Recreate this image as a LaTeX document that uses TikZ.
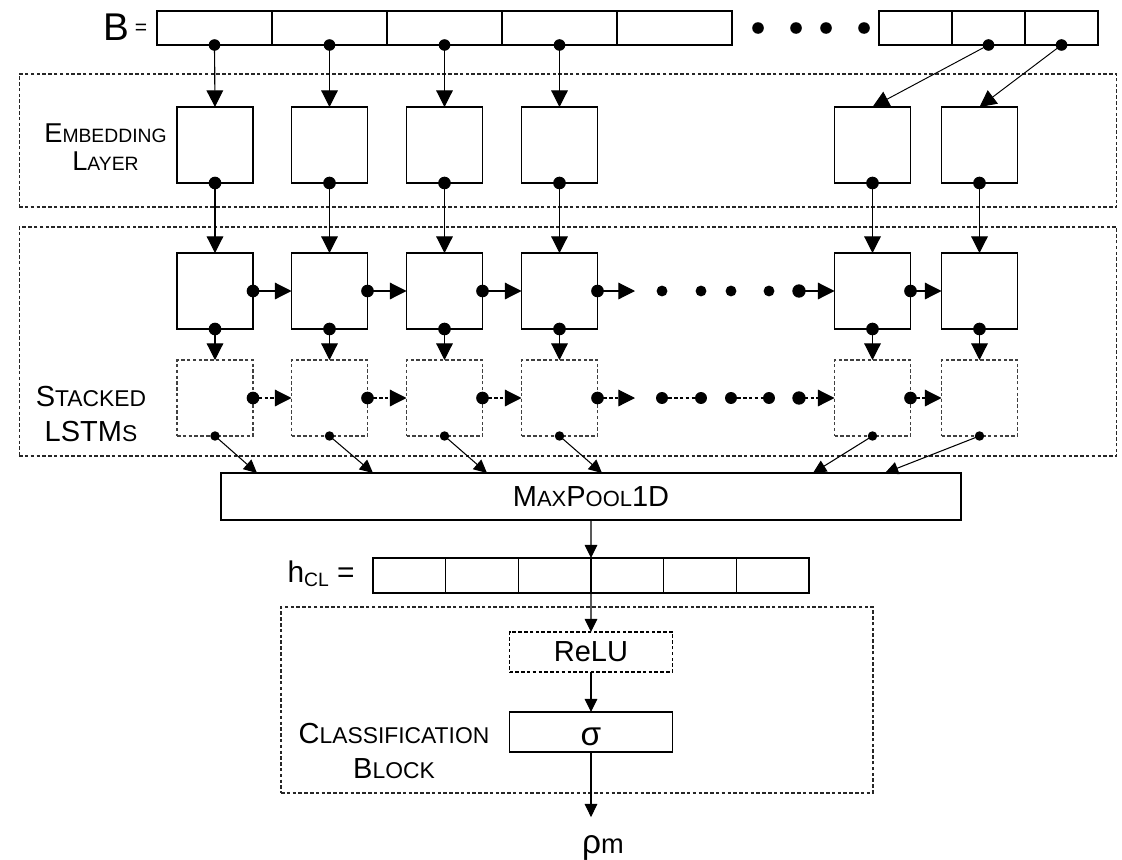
\documentclass[tikz,border=0pt]{standalone}
\usepackage{fontspec}
\setmainfont{Liberation Sans}
\usetikzlibrary{arrows.meta, positioning}

% small capitals made by hand
\newcommand{\low}[2][12]{{\fontsize{#1}{#1}\selectfont #2}}

\begin{document}
\begin{tikzpicture}[x=0.02cm, y=-0.02cm,
        bcell/.style={draw, line width=0.75pt, minimum width=2.3cm, minimum height=0.68cm, inner sep=0, outer sep=0},
        rcell/.style={bcell, minimum width=1.46cm},
        hcell/.style={bcell, minimum width=1.4533cm, minimum height=0.7cm},
        unit/.style={draw, line width=0.75pt, minimum size=1.52cm, inner sep=0, outer sep=0},
        dunit/.style={unit, draw=black!75, line width=0.65pt, dash pattern=on 2pt off 1.3pt},
        frame/.style={draw=black!85, line width=0.65pt, dash pattern=on 2pt off 1.3pt, inner sep=0, outer sep=0},
        opbox/.style={draw, line width=0.75pt, minimum width=3.26cm, minimum height=0.8cm, inner sep=0, outer sep=0},
        dot/.style={circle, fill=black, inner sep=0, minimum size=7.2pt},
        sdot/.style={dot, minimum size=5.4pt},
        arrow/.style={-{Triangle[length=9.5pt, width=9.5pt]}, line width=0.65pt},
        sarrow/.style={-{Triangle[length=7.5pt, width=7.2pt]}, line width=0.6pt},
        darrow/.style={arrow, dash pattern=on 2pt off 1.3pt},
        lbl/.style={align=center, inner sep=0}
    ]
        \useasboundingbox (0,0) rectangle (1122,859);

        % Frames
        \node[frame, minimum width=21.96cm, minimum height=2.66cm] (embbox) at (568,140.5) {};
        \node[frame, minimum width=21.96cm, minimum height=4.58cm] (lstmbox) at (568,341.5) {};
        \node[frame, minimum width=11.84cm, minimum height=3.72cm] (clsbox) at (577,700) {};

        % Input vector
        \node[anchor=base, inner sep=0, font=\fontsize{22}{22}\selectfont] (bname) at (116.5,40) {B};
        \node[inner sep=0, font=\fontsize{12}{12}\selectfont] (beq) at (141,29) {=};
        \foreach \i in {1,...,5}
            \node[bcell] (b\i) at ({157+115*\i-57.5},28) {};
        \foreach \i in {1,2,3}
            \node[rcell] (r\i) at ({879+73*\i-36.5},28) {};
        \foreach \i/\x in {1/758,2/796,3/826,4/864}
            \node[dot, minimum size=6.6pt] (u\i) at (\x,28) {};

        % Blocks
        \foreach \i/\x in {1/215,2/329.5,3/444.5,4/559.5,5/872.5,6/979.5} {
            \node[unit] (e\i) at (\x,145) {};
            \node[unit] (s\i) at (\x,291) {};
            \node[dunit] (t\i) at (\x,398) {};
        }

        % Labels
        \node[lbl, font=\fontsize{15.5}{16}\selectfont] (embtxt) at (105.5,147) {E\low[11]{MBEDDING}\\L\low[11]{AYER}};
        \node[lbl, font=\fontsize{16.5}{19.5}\selectfont] (lstmtxt) at (91,414) {S\low[13]{TACKED}\\LSTM\low[13]{S}};
        \node[lbl, font=\fontsize{16.5}{20}\selectfont] (clstxt) at (394,751) {C\low[13]{LASSIFICATION}\\B\low[13]{LOCK}};

        % Input -> embedding
        \foreach \i in {1,...,4} {
            \node[dot, minimum size=6.6pt] at (b\i.south) {};
            \draw[arrow] (b\i.south) -- (e\i.north);
        }
        \node[dot, minimum size=6.6pt] at (r2.south) {};
        \node[dot, minimum size=6.6pt] at (r3.south) {};
        \draw[arrow, line width=0.55pt] (r2.south) -- (e5.north);
        \draw[arrow, line width=0.55pt] (r3.south) -- (e6.north);

        % Embedding -> LSTMs
        \foreach \i in {1,...,6} {
            \node[dot] at (e\i.south) {};
            \draw[arrow] (e\i.south) -- (s\i.north);
            \node[dot] at (s\i.south) {};
            \draw[arrow] (s\i.south) -- (t\i.north);
            \node[sdot] at (t\i.south) {};
        }
        \foreach \i in {1,...,5} {
            \node[dot] at (s\i.east) {};
            \node[dot] at (t\i.east) {};
        }
        \foreach \i/\j in {1/2,2/3,3/4,5/6} {
            \draw[arrow] (s\i.east) -- (s\j.west);
            \draw[darrow] (t\i.east) -- (t\j.west);
        }

        % Ellipsis between the LSTM cells
        \coordinate (g1) at (635,291);
        \coordinate (g2) at (635,398);
        \draw[arrow] (s4.east) -- (g1);
        \draw[darrow] (t4.east) -- (g2);
        \foreach \i/\x in {1/662,2/701,3/731,4/769} {
            \node[dot, minimum size=6.2pt] (q\i) at (\x,291) {};
            \node[dot, minimum size=6.8pt] (p\i) at (\x,398) {};
        }
        \node[dot, minimum size=7.6pt] (q5) at (799,291) {};
        \node[dot, minimum size=7.6pt] (p5) at (799,398) {};
        \draw[arrow] (q5.center) -- (s5.west);
        \draw[darrow] (p5.center) -- (t5.west);
        \draw[line width=0.65pt, dash pattern=on 2pt off 1.3pt] (p1) -- (p2);
        \draw[line width=0.65pt, dash pattern=on 2pt off 1.3pt] (p3) -- (p4);

        % Pooling
        \node[draw, line width=0.75pt, minimum width=14.8cm, minimum height=0.94cm, inner sep=0, outer sep=0,
              font=\fontsize{16.5}{16.5}\selectfont] (mp) at (591,496.5) {M\low[12.5]{AX}P\low[12.5]{OOL}1D};
        \foreach \i/\x in {1/257,2/373,3/487,4/602,5/813,6/885} {
            \coordinate (m\i) at (\x,473);
            \draw[sarrow] (t\i.south) -- (m\i);
        }

        % Pooled vector
        \foreach \i in {1,...,6}
            \node[hcell] (h\i) at ({373+72.67*\i-36.33},575.5) {};
        \node[anchor=base east, inner sep=0, font=\fontsize{17}{17}\selectfont] (hname) at (355,582)
            {h\raisebox{-2.5pt}{\fontsize{11}{11}\selectfont CL} =};
        \draw[sarrow] (mp.south) -- (h3.north east);

        % Classification block
        \node[opbox, dashed, dash pattern=on 2pt off 1.3pt, line width=0.65pt, font=\fontsize{16.5}{16.5}\selectfont] (relu) at (591,652) {ReLU};
        \node[opbox, font=\fontsize{19}{19}\selectfont] (sig) at (591,732) {\smash{\raisebox{-7.5pt}{σ}}};
        \node[anchor=base, inner xsep=0, inner ysep=10pt] (rho) at (603,853)
            {{\fontsize{19}{19}\selectfont ρ}{\fontsize{15.5}{15.5}\selectfont m}};
        \draw[sarrow] (h3.south east) -- (relu.north);
        \draw[sarrow] (relu.south) -- (sig.north);
        \draw[sarrow] (sig.south) -- (sig.south |- rho.north);
    \end{tikzpicture}
\end{document}
